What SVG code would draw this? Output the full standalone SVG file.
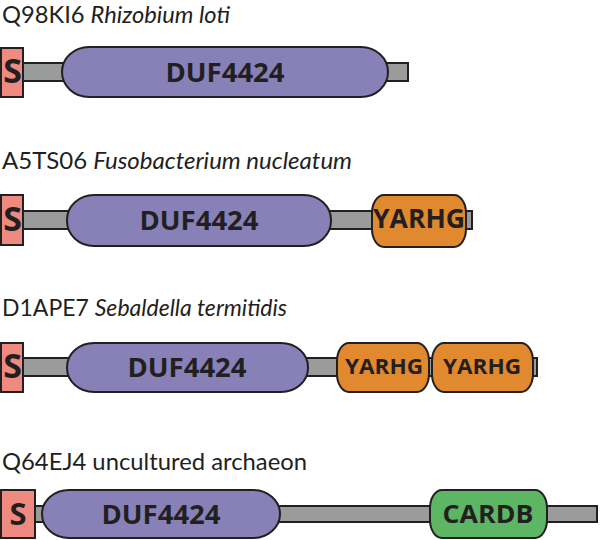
<svg xmlns="http://www.w3.org/2000/svg" width="600" height="540" viewBox="0 0 600 540">
<style>
.title{font-family:Lato,"Open Sans","Liberation Sans",sans-serif;font-size:23px;fill:#231f20}
.it{font-style:italic}
.bar{fill:#9a9c9b;stroke:#231f20;stroke-width:2}
.sig{fill:#ee8a80;stroke:#231f20;stroke-width:2}
.duf{fill:#8781b8;stroke:#231f20;stroke-width:2}
.yar{fill:#e0892f;stroke:#231f20;stroke-width:2}
.card{fill:#5db663;stroke:#231f20;stroke-width:2}
.lbl{font-family:"Open Sans","Liberation Sans",sans-serif;font-weight:bold;fill:#231f20;text-anchor:middle}
.s{font-family:"Open Sans","Liberation Sans",sans-serif;font-weight:bold;fill:#231f20;text-anchor:middle}
</style>
<rect width="600" height="540" fill="#fff"/>
<g id="titles">
<text class="title" x="2" y="23" textLength="228" lengthAdjust="spacingAndGlyphs">Q98KI6 <tspan class="it">Rhizobium loti</tspan></text>
<text class="title" x="2" y="169" textLength="350" lengthAdjust="spacingAndGlyphs">A5TS06 <tspan class="it">Fusobacterium nucleatum</tspan></text>
<text class="title" x="2" y="316" textLength="285" lengthAdjust="spacingAndGlyphs">D1APE7 <tspan class="it">Sebaldella termitidis</tspan></text>
<text class="title" x="2" y="470" textLength="305" lengthAdjust="spacingAndGlyphs">Q64EJ4 uncultured archaeon</text>
</g>
<g id="connectors">
<rect class="bar" x="23" y="63" width="385" height="18"/>
<rect class="bar" x="23" y="211" width="449" height="18"/>
<rect class="bar" x="23" y="358" width="514" height="18"/>
<rect class="bar" x="35" y="506" width="562" height="16"/>
</g>
<g id="row1">
<rect class="duf" x="62" y="47" width="326" height="50" rx="27" ry="25"/>
<text class="lbl" x="225" y="82" font-size="26" textLength="119" lengthAdjust="spacingAndGlyphs">DUF4424</text>
<rect class="sig" x="1" y="48" width="22" height="49"/>
<text class="s" x="12.5" y="83" font-size="34">S</text>
</g>
<g id="row2">
<rect class="duf" x="67" y="195" width="264" height="51" rx="27" ry="25"/>
<text class="lbl" x="199" y="230" font-size="26" textLength="119" lengthAdjust="spacingAndGlyphs">DUF4424</text>
<rect class="yar" x="372" y="195" width="94" height="52" rx="12" ry="18"/>
<text class="lbl" x="419" y="228" font-size="26" textLength="92" lengthAdjust="spacingAndGlyphs">YARHG</text>
<rect class="sig" x="1" y="195" width="22" height="50"/>
<text class="s" x="12.5" y="231" font-size="34">S</text>
</g>
<g id="row3">
<rect class="duf" x="67" y="343" width="241" height="49" rx="27" ry="24"/>
<text class="lbl" x="187" y="377" font-size="26" textLength="119" lengthAdjust="spacingAndGlyphs">DUF4424</text>
<rect class="yar" x="337" y="343" width="92" height="49" rx="12" ry="18"/>
<text class="lbl" x="384" y="374" font-size="22" textLength="78" lengthAdjust="spacingAndGlyphs">YARHG</text>
<rect class="yar" x="432" y="343" width="101" height="49" rx="12" ry="18"/>
<text class="lbl" x="482" y="374" font-size="22" textLength="78" lengthAdjust="spacingAndGlyphs">YARHG</text>
<rect class="sig" x="1" y="343" width="22" height="49"/>
<text class="s" x="12.5" y="378" font-size="34">S</text>
</g>
<g id="row4">
<rect class="duf" x="42" y="490" width="238" height="48" rx="27" ry="24"/>
<text class="lbl" x="161" y="524" font-size="26" textLength="119" lengthAdjust="spacingAndGlyphs">DUF4424</text>
<rect class="card" x="430" y="490" width="117" height="48" rx="12" ry="18"/>
<text class="lbl" x="488" y="523" font-size="25" textLength="91" lengthAdjust="spacingAndGlyphs">CARDB</text>
<rect class="sig" x="1" y="490" width="34" height="48"/>
<text class="s" x="18" y="525" font-size="31">S</text>
</g>
</svg>
